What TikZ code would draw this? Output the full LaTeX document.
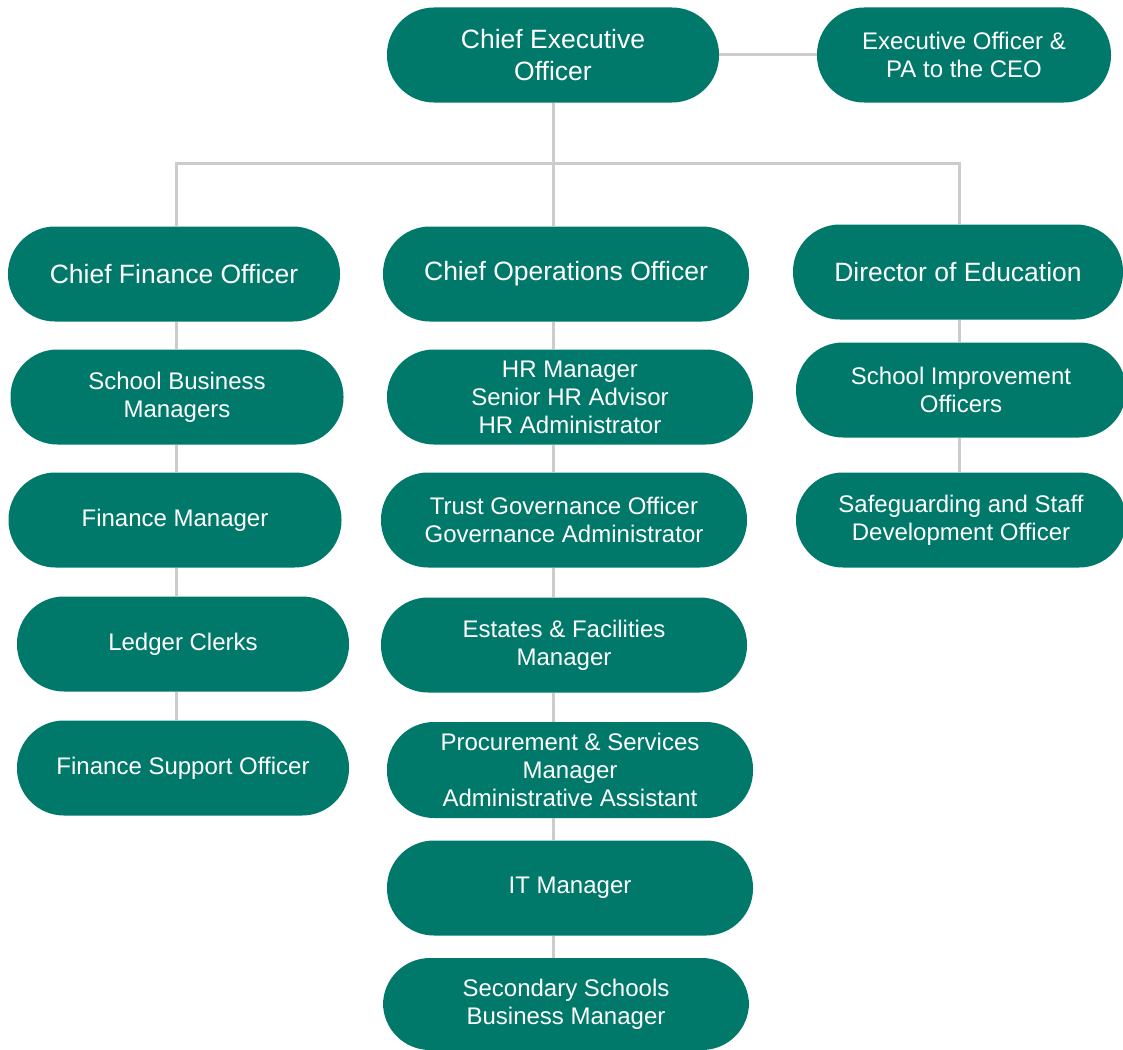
\documentclass[tikz,border=0pt]{standalone}
\usepackage{fontspec}
\setmainfont{Liberation Sans}
\usetikzlibrary{positioning}
\definecolor{boxgreen}{HTML}{00796B}
\definecolor{linegray}{HTML}{CCCCCC}

\begin{document}
\begin{tikzpicture}[x=1pt,y=-1pt,
    post/.style={fill=boxgreen,text=white,rounded corners=47pt,minimum height=95pt,
      minimum width=333pt,align=center,inner sep=0pt,font=\fontsize{24}{28}\selectfont},
    head/.style={post,font=\fontsize{26.5}{32}\selectfont},
    link/.style={draw=linegray,line width=3pt}]
      \fill[white] (0,0) rectangle (1123,1049);
      \useasboundingbox (0,0) rectangle (1123,1049);

      \node[head,minimum width=332pt] (ceo) at (553,55) {Chief Executive\\Officer};
      \node[post,minimum width=294pt] (pa) at (964,55) {Executive Officer \&\\PA to the CEO};

      \node[head,minimum width=332pt] (cfo) at (174,274) {Chief Finance Officer};
      \node[head,minimum width=366pt] (coo) at (566,274) {Chief Operations Officer};
      \node[head,minimum width=330pt] (doe) at (958,272) {Director of Education};

      \node[post] (sbm) at (177,397) {School Business\\Managers};
      \node[post] (fm) at (175,520) {Finance Manager};
      \node[post,minimum width=332pt] (lc) at (183,644) {Ledger Clerks};
      \node[post,minimum width=332pt] (fso) at (183,768) {Finance Support Officer};

      \node[post,minimum width=366pt] (hr) at (570,397) {HR Manager\\Senior HR Advisor\\HR Administrator};
      \node[post,minimum width=366pt] (gov) at (564,520) {Trust Governance Officer\\Governance Administrator};
      \node[post,minimum width=366pt] (est) at (564,645) {Estates \& Facilities\\Manager};
      \node[post,minimum width=366pt,minimum height=96pt] (proc) at (570,770) {Procurement \& Services\\Manager\\Administrative Assistant};
      \node[post,minimum width=366pt] (it) at (570,888) {IT Manager};
      \node[post,minimum width=366pt,minimum height=92pt] (sec) at (566,1004) {Secondary Schools\\Business Manager};

      \node[post,minimum width=330pt] (sio) at (961,390) {School Improvement\\Officers};
      \node[post,minimum width=330pt] (sdo) at (961,520) {Safeguarding and Staff\\Development Officer};

      \coordinate (bus) at (553,163);
      \coordinate (lcol) at (176,0);
      \coordinate (mcol) at (553,0);
      \coordinate (rcol) at (959,0);

      \draw[link] (ceo) -- (pa);
      \draw[link] (ceo) -- (bus);
      \draw[link] (bus) -| (lcol |- cfo.north);
      \draw[link] (bus) -| (rcol |- doe.north);
      \draw[link] (bus) -- (mcol |- coo.north);
      \foreach \a/\b in {cfo/sbm,sbm/fm,fm/lc,lc/fso} {
        \draw[link] (\a.south -| lcol) -- (\b.north -| lcol);
      }
      \foreach \a/\b in {coo/hr,hr/gov,gov/est,est/proc,proc/it,it/sec} {
        \draw[link] (\a.south -| mcol) -- (\b.north -| mcol);
      }
      \foreach \a/\b in {doe/sio,sio/sdo} {
        \draw[link] (\a.south -| rcol) -- (\b.north -| rcol);
      }
    \end{tikzpicture}
\end{document}
